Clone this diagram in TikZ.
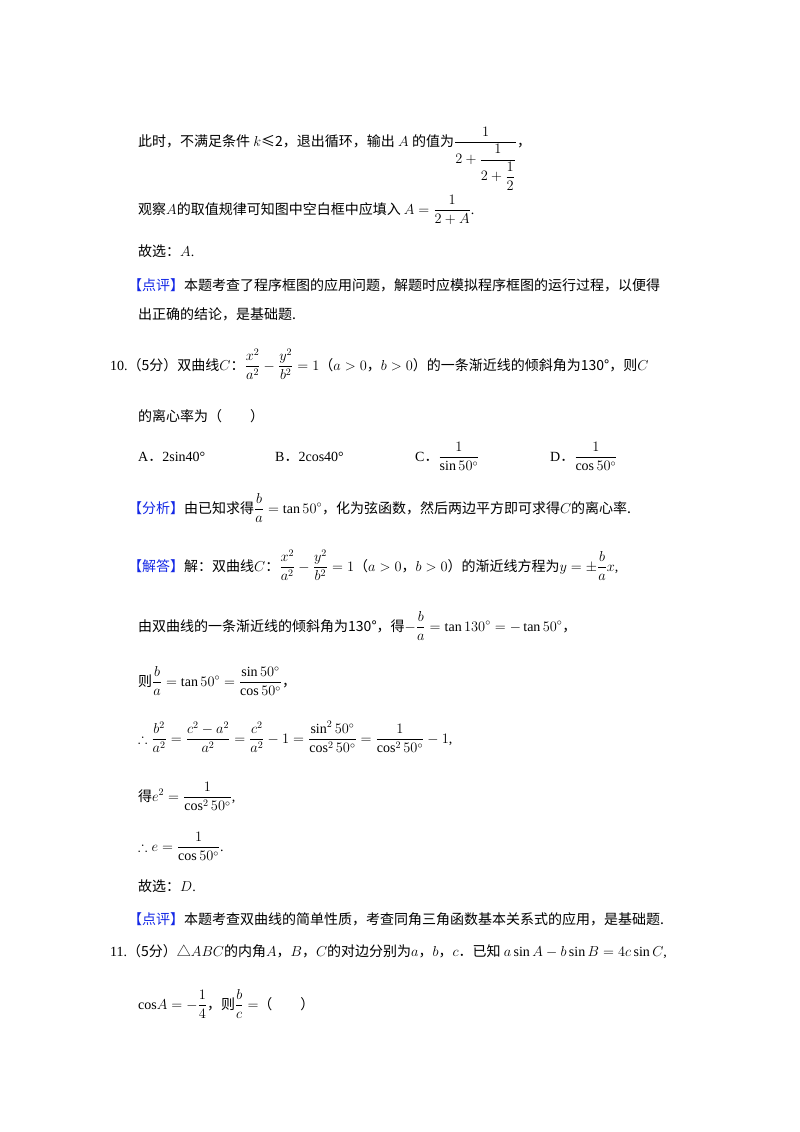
\documentclass[tikz,border=0pt]{standalone}
\usepackage{amsmath,amssymb}
\usepackage{fontspec}
\setmainfont{Liberation Serif}
\newfontfamily\cjk{Noto Sans CJK SC}
\definecolor{lblue}{RGB}{20,40,230}
\newcommand{\lab}[1]{{\color{lblue}\cjk 【#1】}}
\begin{document}
\begin{tikzpicture}[x=1pt,y=-1pt,every node/.style={anchor=base west,inner sep=0pt,font=\fontsize{14}{17}\selectfont}]
\useasboundingbox[fill=white] (0,0) rectangle (800,1132);
\node (l1) at (138,146) {\cjk 此时，不满足条件 \rm$k$\cjk ≤2，退出循环，输出 \rm$A$ \cjk 的值为\rm$\dfrac{1}{2+\dfrac{1}{2+\dfrac{1}{2}}}$\cjk ，};
\node (l2) at (138,214) {\cjk 观察\rm$A$\cjk 的取值规律可知图中空白框中应填入 \rm$A=\dfrac{1}{2+A}$.};
\node (l3) at (138,256) {\cjk 故选：\rm$A$.};
\node (l4) at (128,290) {\lab{点评}\cjk 本题考查了程序框图的应用问题，解题时应模拟程序框图的运行过程，以便得};
\node (l5) at (138,319) {\cjk 出正确的结论，是基础题.};
\node (l6) at (110,370) {10.\cjk （5分）双曲线\rm$C$\cjk ：\rm$\dfrac{x^2}{a^2}-\dfrac{y^2}{b^2}=1$\cjk （\rm$a>0$\cjk ，\rm$b>0$\cjk ）的一条渐近线的倾斜角为130°，则\rm$C$};
\node (l7) at (138,421) {\cjk 的离心率为（　　）};
\node (oA) at (138,461) {A{\cjk ．}2sin40°};
\node (oB) at (275,461) {B{\cjk ．}2cos40°};
\node (oC) at (415,461) {C{\cjk ．}$\dfrac{1}{\sin50^\circ}$};
\node (oD) at (550,461) {D{\cjk ．}$\dfrac{1}{\cos50^\circ}$};
\node (l8) at (128,513) {\lab{分析}\cjk 由已知求得\rm$\dfrac{b}{a}=\tan50^\circ$\cjk ，化为弦函数，然后两边平方即可求得\rm$C$\cjk 的离心率.};
\node (l9) at (128,571) {\lab{解答}\cjk 解：双曲线\rm$C$\cjk ：\rm$\dfrac{x^2}{a^2}-\dfrac{y^2}{b^2}=1$\cjk （\rm$a>0$\cjk ，\rm$b>0$\cjk ）的渐近线方程为\rm$y=\pm\dfrac{b}{a}x$,};
\node (l10) at (138,631) {\cjk 由双曲线的一条渐近线的倾斜角为130°，得\rm$-\dfrac{b}{a}=\tan130^\circ=-\tan50^\circ$\cjk ，};
\node (l11) at (138,686) {\cjk 则\rm$\dfrac{b}{a}=\tan50^\circ=\dfrac{\sin50^\circ}{\cos50^\circ}$\cjk ，};
\node (l12) at (138,743) {$\therefore\dfrac{b^2}{a^2}=\dfrac{c^2-a^2}{a^2}=\dfrac{c^2}{a^2}-1=\dfrac{\sin^2 50^\circ}{\cos^2 50^\circ}=\dfrac{1}{\cos^2 50^\circ}-1$,};
\node (l13) at (138,801) {\cjk 得\rm$e^2=\dfrac{1}{\cos^2 50^\circ}$,};
\node (l14) at (138,851) {$\therefore e=\dfrac{1}{\cos50^\circ}$.};
\node (l15) at (138,891) {\cjk 故选：\rm$D$.};
\node (l16) at (128,924) {\lab{点评}\cjk 本题考查双曲线的简单性质，考查同角三角函数基本关系式的应用，是基础题.};
\node (l17) at (110,956) {11.\cjk （5分）△\rm$ABC$\cjk 的内角\rm$A$\cjk ，\rm$B$\cjk ，\rm$C$\cjk 的对边分别为\rm$a$\cjk ，\rm$b$\cjk ，\rm$c$\cjk ．已知 \rm$a\sin A-b\sin B=4c\sin C$,};
\node (l18) at (138,1009) {cos$A=-\dfrac{1}{4}$\cjk ，则\rm$\dfrac{b}{c}=$\cjk （　　）};
\end{tikzpicture}
\end{document}
